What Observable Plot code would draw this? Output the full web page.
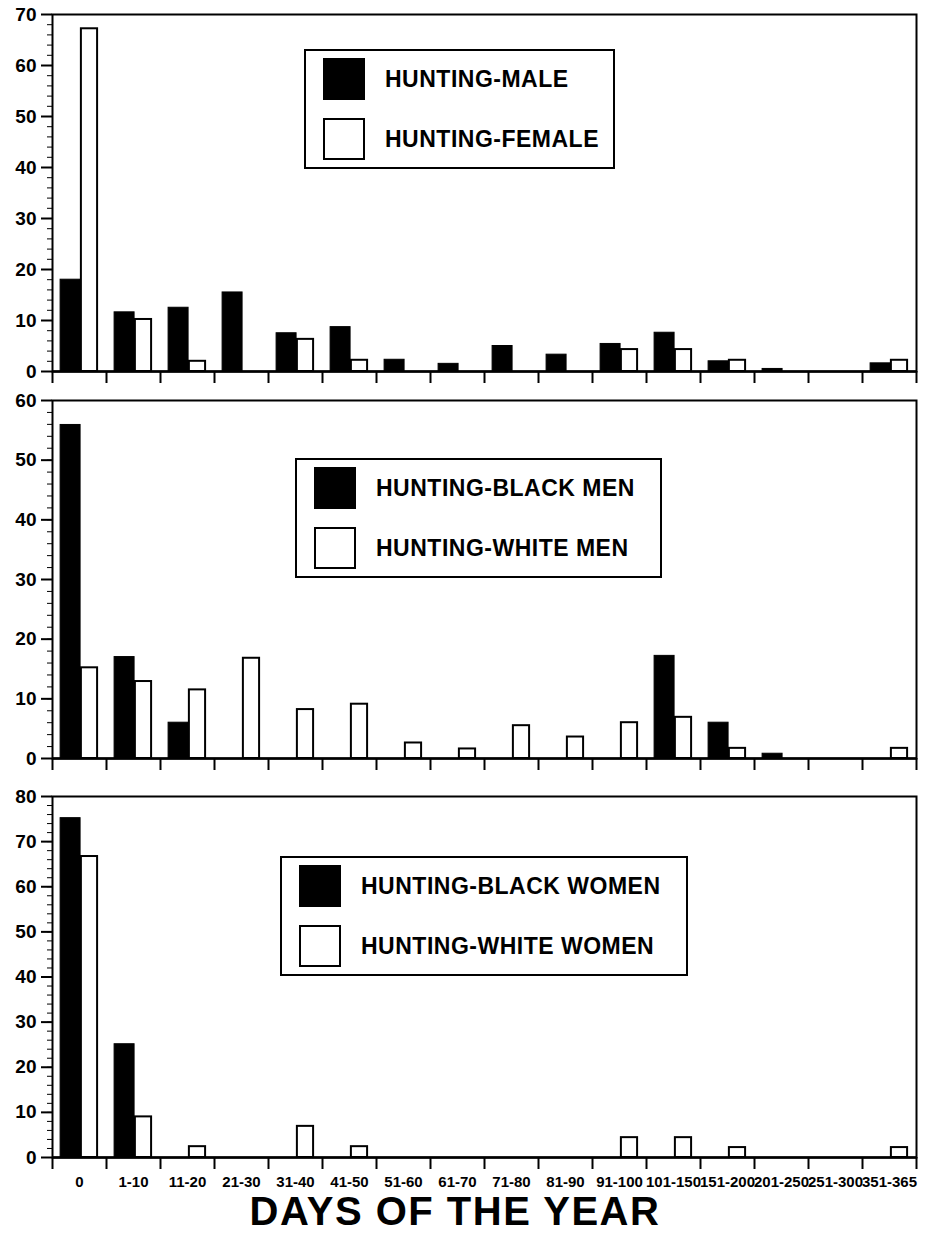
<!DOCTYPE html>
<html>
<head>
<meta charset="utf-8">
<script src="https://cdn.jsdelivr.net/npm/d3@7"></script>
<script src="https://cdn.jsdelivr.net/npm/@observablehq/plot@0.6"></script>
<style>
  body { margin: 0; background: #fff; font-family: "Liberation Sans", Arial, sans-serif; }
  #wrap { position: relative; width: 926px; height: 1234px; overflow: hidden; background: #fff; }
  .panel { position: absolute; left: 0; }
  .legend { position: absolute; border: 2px solid #000; box-sizing: border-box; background: #fff; }
  .sw { position: absolute; width: 42px; height: 42px; box-sizing: border-box; border: 2px solid #000; }
  .lt { position: absolute; height: 42px; line-height: 42px; font-weight: bold; font-size: 23px; letter-spacing: 0.5px; white-space: nowrap; color: #000; }
  #title { position: absolute; top: 1191px; left: 455px; transform: translateX(-50%); font-size: 40px; line-height: 40px; letter-spacing: 1.5px; font-weight: bold; white-space: nowrap; color: #000; }
</style>
</head>
<body>
<div id="wrap"></div>
<script>
// ---- data ----
const categories = ["0","1-10","11-20","21-30","31-40","41-50","51-60","61-70","71-80","81-90","91-100","101-150","151-200","201-250","251-300","351-365"];
const huntingMale       = [18.0, 11.6, 12.5, 15.5, 7.5, 8.7, 2.3, 1.5, 5.0, 3.3, 5.4, 7.6, 2.0, 0.5, 0, 1.6];
const huntingFemale     = [67.2, 10.2, 2.0, 0, 6.3, 2.2, 0, 0, 0, 0, 4.3, 4.3, 2.2, 0, 0, 2.2];
const huntingBlackMen   = [55.9, 17.0, 6.0, 0, 0, 0, 0, 0, 0, 0, 0, 17.2, 6.0, 0.8, 0, 0];
const huntingWhiteMen   = [15.2, 12.9, 11.5, 16.8, 8.2, 9.1, 2.6, 1.6, 5.5, 3.6, 6.0, 6.9, 1.7, 0, 0, 1.7];
const huntingBlackWomen = [75.2, 25.1, 0, 0, 0, 0, 0, 0, 0, 0, 0, 0, 0, 0, 0, 0];
const huntingWhiteWomen = [66.7, 9.0, 2.4, 0, 6.9, 2.4, 0, 0, 0, 0, 4.4, 4.4, 2.2, 0, 0, 2.2];
const yMaxima = [70, 60, 80];
const legendLabels = [
  ["HUNTING-MALE", "HUNTING-FEMALE"],
  ["HUNTING-BLACK MEN", "HUNTING-WHITE MEN"],
  ["HUNTING-BLACK WOMEN", "HUNTING-WHITE WOMEN"]
];
const xTitle = "DAYS OF THE YEAR";

// ---- layout ----
const panels = [
  {black: huntingMale, white: huntingFemale, ymax: yMaxima[0], top: 0, height: 390, marginTop: 14, marginBottom: 19, labels: false,
   legend: {left: 304, top: 49, width: 311, height: 120}, names: legendLabels[0]},
  {black: huntingBlackMen, white: huntingWhiteMen, ymax: yMaxima[1], top: 390, height: 390, marginTop: 10, marginBottom: 22, labels: false,
   legend: {left: 295, top: 458, width: 367, height: 120}, names: legendLabels[1]},
  {black: huntingBlackWomen, white: huntingWhiteWomen, ymax: yMaxima[2], top: 780, height: 420, marginTop: 16, marginBottom: 43, labels: true,
   legend: {left: 280, top: 856, width: 408, height: 120}, names: legendLabels[2]}
];

const wrap = document.getElementById("wrap");
const rowsOf = (vals, s) => vals.map((v, i) => ({i, cat: categories[i], v, s})).filter(d => d.v > 0);

for (const p of panels) {
  const svg = Plot.plot({
    width: 926,
    height: p.height,
    marginTop: p.marginTop,
    marginBottom: p.marginBottom,
    marginLeft: 52,
    marginRight: 10,
    style: {fontFamily: "'Liberation Sans', Arial, sans-serif", fontSize: "19px", fontWeight: "bold", color: "#000", background: "transparent"},
    x: {type: "linear", domain: [0, categories.length], axis: null},
    y: {domain: [0, p.ymax], axis: null},
    marks: [
      Plot.rectY(rowsOf(p.black, "black"), {x1: d => d.i + 0.15, x2: d => d.i + 0.52, y: "v", fill: "#000", stroke: "#000", strokeWidth: 1}),
      Plot.rectY(rowsOf(p.white, "white"), {x1: d => d.i + 0.535, x2: d => d.i + 0.835, y: "v", fill: "#fff", stroke: "#000", strokeWidth: 2}),
      Plot.frame({stroke: "#000", strokeWidth: 2}),
      Plot.ruleY([0], {stroke: "#000", strokeWidth: 2.5}),
      Plot.axisY(d3.range(0, p.ymax + 1, 2), {tickSize: 5, tickFormat: () => "", label: null, strokeWidth: 1}),
      Plot.axisY(d3.range(0, p.ymax + 1, 10), {tickSize: 11, tickPadding: 5, fontSize: 19, fontWeight: "bold", label: null, strokeWidth: 2}),
      Plot.axisX(d3.range(0, categories.length + 1), {tickSize: 12, tickFormat: () => "", label: null, strokeWidth: 2}),
      p.labels ? Plot.axisX(categories.map((c, i) => i + 0.5), {tickSize: 0, tickPadding: 19, tickFormat: v => categories[Math.floor(v)], fontSize: 15, fontWeight: "bold", label: null}) : null
    ]
  });
  svg.classList.add("panel");
  svg.style.top = p.top + "px";
  wrap.appendChild(svg);

  const lg = document.createElement("div");
  lg.className = "legend";
  Object.assign(lg.style, {left: p.legend.left + "px", top: p.legend.top + "px", width: p.legend.width + "px", height: p.legend.height + "px"});
  p.names.forEach((name, k) => {
    const sw = document.createElement("div");
    sw.className = "sw";
    Object.assign(sw.style, {left: "17px", top: (7 + 60 * k) + "px", background: k === 0 ? "#000" : "#fff"});
    lg.appendChild(sw);
    const t = document.createElement("div");
    t.className = "lt";
    Object.assign(t.style, {left: "79px", top: (7 + 60 * k) + "px"});
    t.textContent = name;
    lg.appendChild(t);
  });
  wrap.appendChild(lg);
}

const title = document.createElement("div");
title.id = "title";
title.textContent = xTitle;
wrap.appendChild(title);
</script>
</body>
</html>
